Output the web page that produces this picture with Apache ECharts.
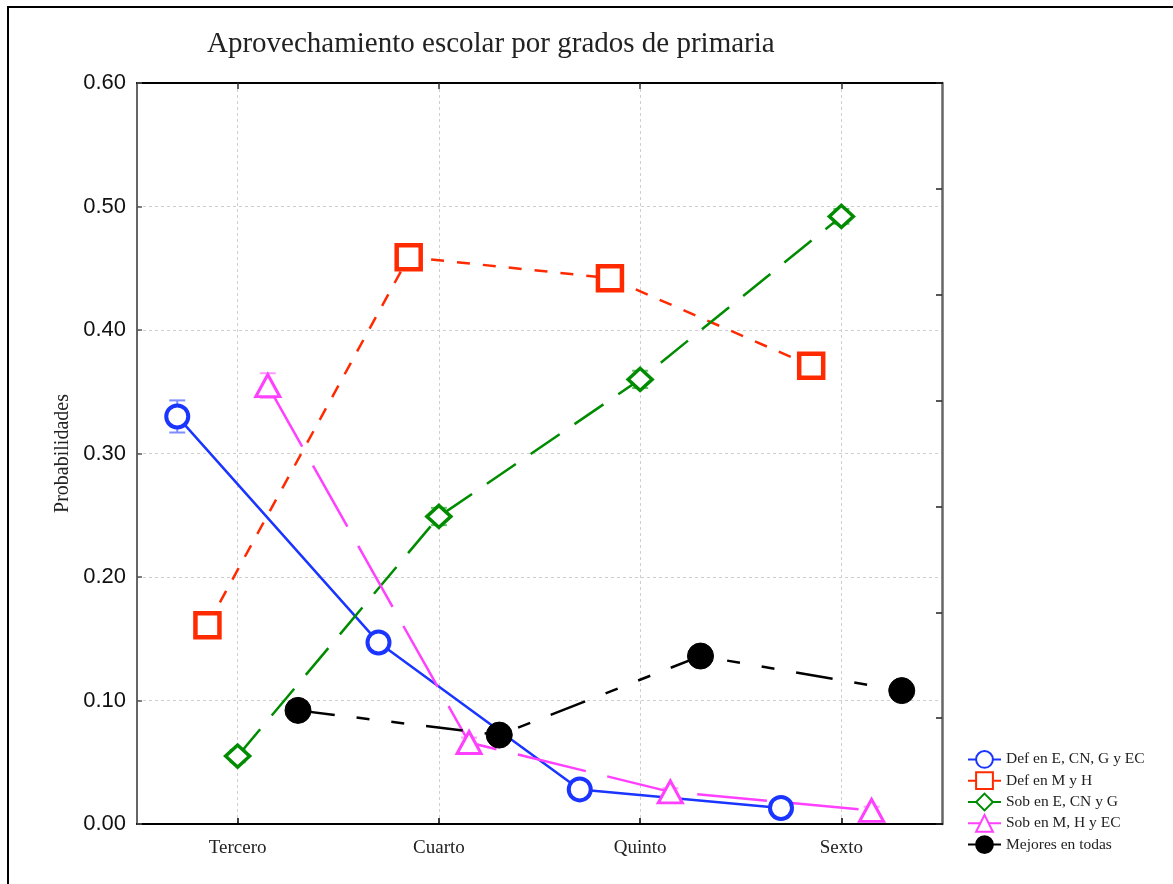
<!DOCTYPE html>
<html>
<head>
<meta charset="utf-8">
<script src="https://cdn.jsdelivr.net/npm/echarts@6/dist/echarts.min.js"></script>
<style>
  html, body { margin: 0; padding: 0; background: #fff; }
  #grafico { width: 1173px; height: 884px; }
</style>
</head>
<body>
<div id="grafico"></div>
<script>
// datos
const grados = ['Tercero', 'Cuarto', 'Quinto', 'Sexto'];
const nombres = ['Def en E, CN, G y EC', 'Def en M y H', 'Sob en E, CN y G', 'Sob en M, H y EC', 'Mejores en todas'];
const defECG = [0.330, 0.147, 0.028, 0.013];
const defMH = [0.161, 0.459, 0.442, 0.371];
const sobECG = [0.055, 0.249, 0.360, 0.492];
const sobMHE = [0.355, 0.066, 0.026, 0.011];
const mejores = [0.092, 0.072, 0.136, 0.108];
// semiamplitud de las barras de error
const errDefECG = [0.013, 0.006, 0.004, 0.003];
const errDefMH = [0.006, 0.007, 0.010, 0.006];
const errSobECG = [0.005, 0.007, 0.007, 0.006];
const errSobMHE = [0.010, 0.004, 0.003, 0.003];
const errMejores = [0.006, 0.005, 0.006, 0.005];
const yTicks = [0, 0.1, 0.2, 0.3, 0.4, 0.5, 0.6];

const valores = [defECG, defMH, sobECG, sobMHE, mejores];
const errores = [errDefECG, errDefMH, errSobECG, errSobMHE, errMejores];
const desplaz = [-0.3, -0.15, 0, 0.15, 0.3];
const colores = ['#1a35ff', '#ff2a00', '#008c00', '#ff40ff', '#000000'];
const coloresErr = ['#7d8dff', '#ff8a70', '#60c060', '#ff9cff', '#555555'];
const simbolos = ['circle', 'rect', 'diamond', 'triangle', 'circle'];
const tamanos = [[22, 22], [24, 24], [24, 22], [24, 22], [26, 26]];
const rellenos = ['#fff', '#fff', '#fff', '#fff', '#000'];
const trazos = ['solid', [13, 13], [35, 18], [70, 22], [37, 22, 13, 22, 13, 22]];
const grosorBorde = [4, 4.5, 3.5, 3, 1];

const serif = 'Liberation Serif';
const chart = echarts.init(document.getElementById('grafico'));

const series = [];
valores.forEach((vals, s) => {
  series.push({
    name: 'error ' + s,
    type: 'custom',
    xAxisIndex: 0,
    yAxisIndex: 0,
    z: 1,
    silent: true,
    data: vals.map((v, i) => [i + desplaz[s], v - errores[s][i], v + errores[s][i]]),
    renderItem: (params, api) => {
      const lo = api.coord([api.value(0), api.value(1)]);
      const hi = api.coord([api.value(0), api.value(2)]);
      const w = 8;
      const st = { stroke: coloresErr[s], lineWidth: 2 };
      return {
        type: 'group',
        children: [
          { type: 'line', shape: { x1: lo[0], y1: lo[1], x2: hi[0], y2: hi[1] }, style: st },
          { type: 'line', shape: { x1: lo[0] - w, y1: lo[1], x2: lo[0] + w, y2: lo[1] }, style: st },
          { type: 'line', shape: { x1: hi[0] - w, y1: hi[1], x2: hi[0] + w, y2: hi[1] }, style: st },
        ],
      };
    },
  });
  series.push({
    name: nombres[s],
    type: 'line',
    xAxisIndex: 0,
    yAxisIndex: 0,
    z: 3,
    data: vals.map((v, i) => [i + desplaz[s], v]),
    symbol: simbolos[s],
    symbolSize: tamanos[s],
    showAllSymbol: true,
    lineStyle: { color: colores[s], width: 2.5, type: trazos[s] },
    itemStyle: { color: rellenos[s], borderColor: colores[s], borderWidth: grosorBorde[s] },
    emphasis: { disabled: true },
  });
});

const option = {
  backgroundColor: '#fff',
  animation: false,
  title: {
    text: 'Aprovechamiento escolar por grados de primaria',
    left: 202,
    top: 25,
    textStyle: { fontFamily: serif, fontSize: 29, fontWeight: 'normal', color: '#222' },
  },
  legend: {
    data: nombres,
    orient: 'vertical',
    left: 962,
    top: 745,
    itemWidth: 33,
    itemHeight: 21,
    itemGap: 2.5,
    textStyle: { fontFamily: serif, fontSize: 15.5, color: '#222' },
  },
  grid: { left: 137, right: 231, top: 83, bottom: 60, containLabel: false },
  xAxis: [
    {
      type: 'value',
      min: -0.5,
      max: 3.5,
      position: 'bottom',
      axisLine: { show: true, onZero: false, lineStyle: { color: '#000', width: 2 } },
      axisTick: { show: true, inside: true, length: 6, customValues: [0, 1, 2, 3], lineStyle: { color: '#000', width: 1.5 } },
      axisLabel: {
        customValues: [0, 1, 2, 3],
        formatter: (v) => grados[Math.round(v)],
        fontFamily: serif,
        fontSize: 19,
        color: '#222',
        margin: 15,
      },
      splitLine: { show: true, lineStyle: { color: '#cfcfcf', type: [3, 3], width: 1 } },
    },
    {
      type: 'value',
      min: -0.5,
      max: 3.5,
      position: 'top',
      axisLine: { show: true, onZero: false, lineStyle: { color: '#000', width: 2 } },
      axisTick: { show: true, inside: true, length: 6, customValues: [0, 1, 2, 3], lineStyle: { color: '#333', width: 1.5 } },
      axisLabel: { show: false },
      splitLine: { show: false },
    },
  ],
  yAxis: [
    {
      type: 'value',
      min: 0,
      max: 0.6,
      interval: 0.1,
      position: 'left',
      name: 'Probabilidades',
      nameLocation: 'middle',
      nameGap: 62,
      nameTextStyle: { fontFamily: serif, fontSize: 20, color: '#222' },
      axisLine: { show: true, onZero: false, lineStyle: { color: '#666', width: 2 } },
      axisTick: { show: true, inside: true, length: 5, lineStyle: { color: '#555', width: 1.5 } },
      axisLabel: {
        customValues: yTicks,
        formatter: (v) => v.toFixed(2),
        fontFamily: 'Liberation Sans',
        fontSize: 22,
        color: '#111',
        margin: 11,
      },
      splitLine: { show: true, lineStyle: { color: '#cfcfcf', type: [3, 3], width: 1 } },
    },
    {
      type: 'value',
      min: 0,
      max: 0.7,
      interval: 0.1,
      position: 'right',
      axisLine: { show: true, onZero: false, lineStyle: { color: '#666', width: 2.5 } },
      axisTick: { show: true, inside: true, length: 6, lineStyle: { color: '#222', width: 1.5 } },
      axisLabel: { show: false },
      splitLine: { show: false },
    },
  ],
  graphic: [
    {
      type: 'rect',
      shape: { x: 8, y: 7, width: 1200, height: 900 },
      style: { fill: 'none', stroke: '#000', lineWidth: 2 },
      silent: true,
      z: 100,
    },
  ],
  series: series,
};

chart.setOption(option);
</script>
</body>
</html>
